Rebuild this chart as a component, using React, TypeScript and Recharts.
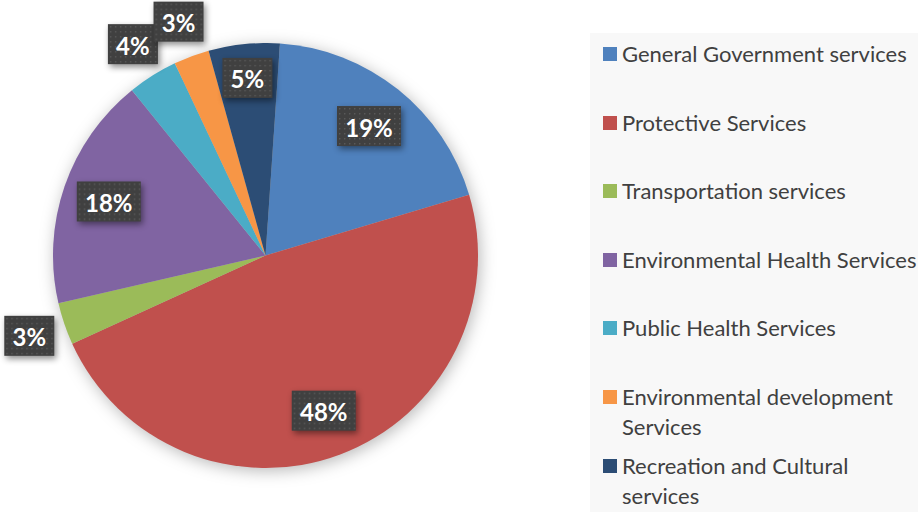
import { PieChart, Pie, Cell, Legend } from "recharts";

const categories = [
  "General Government services",
  "Protective Services",
  "Transportation services",
  "Environmental Health Services",
  "Public Health Services",
  "Environmental development Services",
  "Recreation and Cultural services",
];
const shares = [19.3, 47.8, 3.2, 17.8, 3.8, 2.7, 5.4];
const colors = ["#4f81bd", "#c0504d", "#9bbb59", "#8064a2", "#4bacc6", "#f79646", "#2c4d75"];

const data = categories.map((name, i) => ({ name, value: shares[i] }));

const RAD = Math.PI / 180;

function renderLabel(props: any) {
  const { cx, cy, midAngle, outerRadius, percent, index } = props;
  // small slices get their box outside the pie, like Excel's best fit
  const outside = percent < 0.045;
  const r = outside ? outerRadius + 37 : percent < 0.1 ? outerRadius * 0.84 : outerRadius * 0.78;
  const x = cx + r * Math.cos(-midAngle * RAD);
  const y = cy + r * Math.sin(-midAngle * RAD);
  const text = `${Math.round(percent * 100)}%`;
  const w = text.length * 14 + 22;
  const h = 40;
  return (
    <g key={`lbl-${index}`}>
      <defs>
        <pattern id={`dots-${index}`} width="5" height="5" patternUnits="userSpaceOnUse" x={x - w / 2} y={y - h / 2}>
          <rect width="5" height="5" fill="#404040" />
          <rect x="2" y="2" width="1.4" height="1.4" fill="#5a5a5a" />
        </pattern>
      </defs>
      <rect
        x={x - w / 2}
        y={y - h / 2}
        width={w}
        height={h}
        fill={`url(#dots-${index})`}
        style={{ filter: "drop-shadow(2px 3px 3px rgba(0,0,0,0.45))" }}
      />
      <text
        x={x}
        y={y + 1}
        textAnchor="middle"
        dominantBaseline="central"
        fill="#ffffff"
        fontFamily="Lato, sans-serif"
        fontWeight={700}
        fontSize={24}
      >
        {text}
      </text>
    </g>
  );
}

function renderLegend() {
  return (
    <div
      style={{
        background: "#f8f8f8",
        width: "100%",
        height: "100%",
        paddingTop: 6,
        boxSizing: "border-box",
        fontFamily: "Lato, sans-serif",
        fontSize: 22,
        color: "#404040",
        overflow: "hidden",
      }}
    >
      {categories.map((name, i) => (
        <div key={name} style={{ height: 68.6, display: "flex", alignItems: "flex-start" }}>
          <span
            style={{
              display: "inline-block",
              width: 14,
              height: 14,
              background: colors[i],
              marginLeft: 13,
              marginTop: 8,
              marginRight: 5,
              flex: "none",
            }}
          />
          <span style={{ lineHeight: "30px", width: 300, flex: "none" }}>{name}</span>
        </div>
      ))}
    </div>
  );
}

export default function App() {
  return (
    <div style={{ position: "absolute", left: 0, top: 0, width: 918, height: 512, background: "#fff" }}>
      <style>{`.recharts-pie { filter: drop-shadow(2px 3px 8px rgba(0,0,0,0.28)); }`}</style>
      <PieChart width={918} height={512} margin={{ top: 0, right: 0, bottom: 0, left: 0 }}>
        <Pie
          data={data}
          dataKey="value"
          nameKey="name"
          cx={265.5}
          cy={255.5}
          outerRadius={212.5}
          startAngle={86.1}
          endAngle={-273.9}
          stroke="none"
          labelLine={false}
          label={renderLabel}
          isAnimationActive={false}
        >
          {data.map((d, i) => (
            <Cell key={d.name} fill={colors[i]} />
          ))}
        </Pie>
        <Legend
          content={renderLegend}
          wrapperStyle={{ position: "absolute", left: 590, top: 33, width: 328, height: 479, bottom: "auto" }}
        />
      </PieChart>
    </div>
  );
}
